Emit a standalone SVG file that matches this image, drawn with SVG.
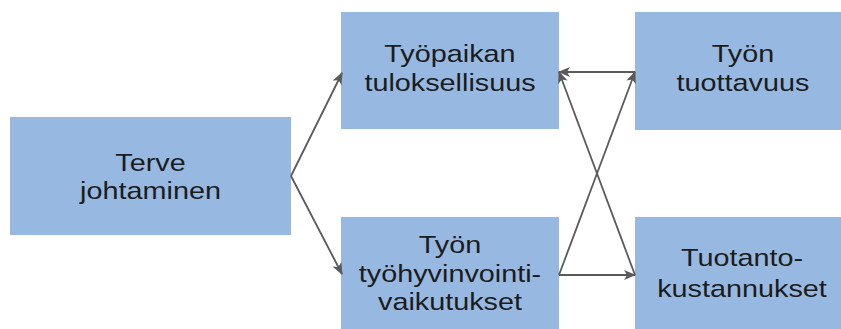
<svg xmlns="http://www.w3.org/2000/svg" width="841" height="329" viewBox="0 0 841 329">
  <style>
    .box { fill: #97B9E1; }
    .lbl { font-family: "Liberation Sans", Arial, sans-serif; font-size: 24px; fill: #1c1c1c; text-anchor: middle; }
    .edge { stroke: #5a5a5a; stroke-width: 1.8; fill: none; marker-end: url(#head); }
  </style>
  <defs>
    <marker id="head" viewBox="0 0 12 10" refX="11" refY="5" markerWidth="12" markerHeight="10" markerUnits="userSpaceOnUse" orient="auto">
      <path d="M0,0 L12,5 L0,10 L3,5 Z" fill="#5a5a5a"/>
    </marker>
  </defs>
  <rect width="841" height="329" fill="#ffffff"/>

  <g id="terve-johtaminen">
    <rect class="box" x="10" y="117" width="281" height="118"/>
    <g transform="translate(150.5 0) scale(1.2 1)">
      <text class="lbl" x="0" y="171">Terve</text>
      <text class="lbl" x="0" y="199">johtaminen</text>
    </g>
  </g>

  <g id="tyopaikan-tuloksellisuus">
    <rect class="box" x="341" y="12" width="218" height="117"/>
    <g transform="translate(450 0) scale(1.2 1)">
      <text class="lbl" x="0" y="62">Työpaikan</text>
      <text class="lbl" x="0" y="91">tuloksellisuus</text>
    </g>
  </g>

  <g id="tyon-tyohyvinvointivaikutukset">
    <rect class="box" x="341" y="217" width="218" height="112"/>
    <g transform="translate(450 0) scale(1.2 1)">
      <text class="lbl" x="0" y="253">Työn</text>
      <text class="lbl" x="0" y="282">työhyvinvointi-</text>
      <text class="lbl" x="0" y="310">vaikutukset</text>
    </g>
  </g>

  <g id="tyon-tuottavuus">
    <rect class="box" x="635" y="12" width="215" height="118"/>
    <g transform="translate(743 0) scale(1.2 1)">
      <text class="lbl" x="0" y="62">Työn</text>
      <text class="lbl" x="0" y="91">tuottavuus</text>
    </g>
  </g>

  <g id="tuotantokustannukset">
    <rect class="box" x="635" y="217" width="215" height="112"/>
    <g transform="translate(742 0) scale(1.2 1)">
      <text class="lbl" x="0" y="266">Tuotanto-</text>
      <text class="lbl" x="0" y="297">kustannukset</text>
    </g>
  </g>

  <g id="connectors">
    <line class="edge" x1="291" y1="176" x2="342" y2="73"/>
    <line class="edge" x1="291" y1="176" x2="342" y2="274"/>
    <line class="edge" x1="635" y1="72" x2="559" y2="72"/>
    <line class="edge" x1="559" y1="275" x2="635" y2="275"/>
    <line class="edge" x1="559" y1="275" x2="635" y2="72"/>
    <line class="edge" x1="635" y1="275" x2="559" y2="72"/>
  </g>
</svg>
